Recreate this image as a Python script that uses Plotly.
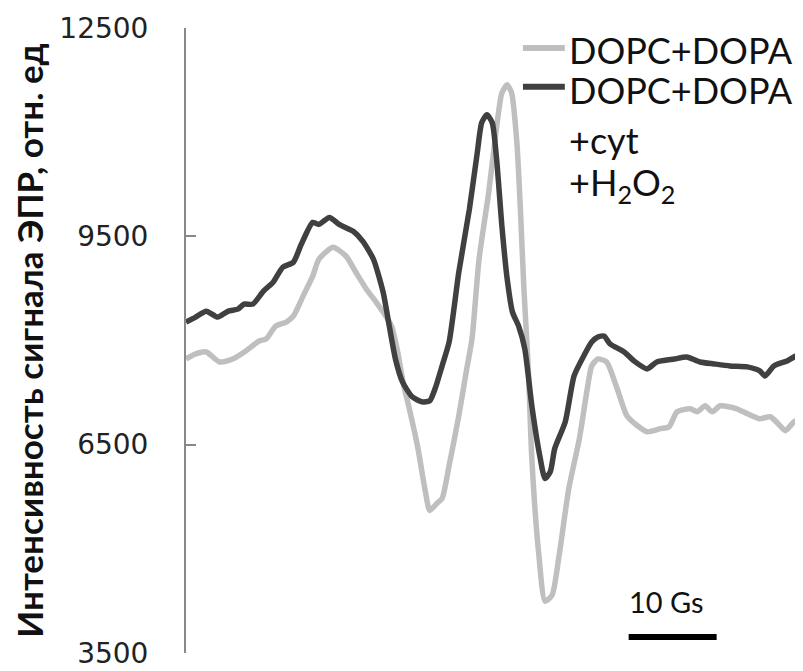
import plotly.graph_objects as go

# Magnetic field offset (Gs) and EPR signal intensity (arb. units)
field_control = [0.0, 1.1, 2.3, 3.8, 5.3, 6.8, 8.3, 9.1, 10.2, 11.4, 12.2, 13.3, 14.4, 15.1,
                 16.7, 18.2, 19.3, 20.5, 21.6, 22.7, 23.4, 24.1, 24.7, 25.3, 26.3, 27.2, 27.7,
                 28.5, 29.1, 29.9, 31.0, 31.9, 32.5, 33.3, 34.4, 35.3, 35.9, 36.5, 37.0, 37.6,
                 38.0, 38.4, 38.9, 39.3, 40.1, 40.8, 41.6, 42.4, 43.5, 44.7, 45.6, 46.1, 46.8,
                 47.8, 49.0, 50.1, 51.3, 52.4, 53.9, 54.9, 55.8, 57.3, 58.1, 59.0, 59.8, 60.7,
                 62.6, 63.8, 65.2, 66.4, 67.5, 68.1, 69.1, 69.7]
signal_control = [7734, 7806, 7835, 7691, 7734, 7849, 7993, 8022, 8208, 8266, 8352, 8639, 8926,
                  9170, 9342, 9213, 8983, 8739, 8553, 8352, 8194, 7806, 7376, 7060, 6486, 5825,
                  5553, 5653, 5725, 6199, 6916, 7591, 8022, 9170, 10132, 11079, 11567, 11682,
                  11567, 10849, 9888, 8739, 7591, 6299, 4907, 4246, 4333, 4907, 5868, 6586,
                  7304, 7634, 7734, 7691, 7304, 6916, 6773, 6687, 6730, 6758, 6974, 7017, 6974,
                  7060, 6974, 7060, 7017, 6945, 6873, 6902, 6773, 6701, 6830, 6873]

field_cyt = [0.0, 1.1, 2.3, 3.6, 4.8, 5.9, 6.6, 7.6, 8.8, 9.9, 11.0, 12.2, 13.1, 14.4, 15.1,
             16.3, 17.4, 19.0, 20.1, 21.3, 22.4, 23.1, 23.8, 24.6, 25.7, 26.8, 27.7, 28.3,
             29.1, 29.9, 31.0, 32.2, 33.1, 33.6, 34.2, 34.8, 35.3, 35.9, 36.5, 37.1, 37.8,
             38.5, 39.3, 40.2, 40.8, 41.4, 41.9, 43.1, 44.1, 45.2, 46.1, 46.8, 47.5, 48.2,
             49.8, 50.9, 52.4, 53.5, 55.5, 56.9, 58.4, 60.0, 61.8, 63.8, 65.2, 65.8, 66.8,
             68.3, 69.7]
signal_cyt = [8266, 8337, 8423, 8337, 8423, 8452, 8524, 8524, 8711, 8840, 9055, 9127, 9385,
              9701, 9672, 9773, 9672, 9572, 9428, 9170, 8696, 8208, 7734, 7404, 7189, 7117,
              7132, 7304, 7634, 7978, 8983, 9888, 10706, 11136, 11251, 11136, 10605, 9644,
              8883, 8409, 8208, 7878, 7060, 6342, 6012, 6112, 6443, 6830, 7490, 7778, 7978,
              8050, 8065, 7950, 7835, 7706, 7591, 7691, 7734, 7763, 7691, 7663, 7634, 7620,
              7562, 7490, 7634, 7706, 7806]

y_ticks = [3500, 6500, 9500, 12500]
y_range = [3500, 12500]
x_range = [0, 70]

scale_bar_start = 50.3   # Gs
scale_bar_len = 10       # Gs
scale_bar_level = 3730
scale_label_level = 4246

names = ["DOPC+DOPA", "DOPC+DOPA", "+cyt", "+H<sub>2</sub>O<sub>2</sub>"]
colors = ["#bfbfbf", "#404040"]

fig = go.Figure()
fig.add_trace(go.Scatter(x=field_control, y=signal_control, mode="lines",
                         line=dict(color=colors[0], width=5.5, shape="spline", smoothing=0.6),
                         name=names[0], showlegend=False, hoverinfo="skip"))
fig.add_trace(go.Scatter(x=field_cyt, y=signal_cyt, mode="lines",
                         line=dict(color=colors[1], width=5.5, shape="spline", smoothing=0.6),
                         name=names[1], showlegend=False, hoverinfo="skip"))

# custom legend
leg_font = dict(family="Lato", size=36, color="#111111")
fig.add_shape(type="line", xref="paper", yref="paper", x0=0.547, x1=0.615, y0=0.968, y1=0.968,
              line=dict(color=colors[0], width=6))
fig.add_shape(type="line", xref="paper", yref="paper", x0=0.547, x1=0.615, y0=0.906, y1=0.906,
              line=dict(color=colors[1], width=6))
for txt, yy in zip(names, [0.965, 0.900, 0.821, 0.750]):
    fig.add_annotation(text=txt, xref="paper", yref="paper", x=0.619, y=yy,
                       xanchor="left", yanchor="middle", showarrow=False, font=leg_font)

# scale bar
fig.add_shape(type="line", xref="x", yref="y", x0=scale_bar_start,
              x1=scale_bar_start + scale_bar_len, y0=scale_bar_level, y1=scale_bar_level,
              line=dict(color="black", width=6))
fig.add_annotation(text=f"{scale_bar_len} Gs", xref="x", yref="y",
                   x=scale_bar_start + scale_bar_len / 2 - 0.7, y=scale_label_level,
                   xanchor="center", yanchor="middle", showarrow=False,
                   font=dict(family="Lato", size=29, color="#111111"))

# page body has an 8px margin, so the figure is sized to fit the 803x671 window
fig.update_layout(
    width=795, height=663,
    margin=dict(l=178, r=1, t=20, b=16),
    paper_bgcolor="white", plot_bgcolor="white",
    showlegend=False,
    xaxis=dict(range=x_range, visible=False),
    yaxis=dict(range=y_range, tickvals=y_ticks, ticktext=[str(v) for v in y_ticks],
               ticks="inside", ticklen=10, tickwidth=2, tickcolor="#888888",
               showline=True, linecolor="#888888", linewidth=2, showgrid=False,
               zeroline=False, ticklabelstandoff=30, ticklabeloverflow="allow",
               tickfont=dict(family="DejaVu Sans", size=28, color="#222222"),
               title=dict(text="<b>Интенсивность сигнала ЭПР, отн. ед</b>",
                          font=dict(family="Lato", size=35, color="#111111"), standoff=20)),
)

fig.write_html("out.html")
